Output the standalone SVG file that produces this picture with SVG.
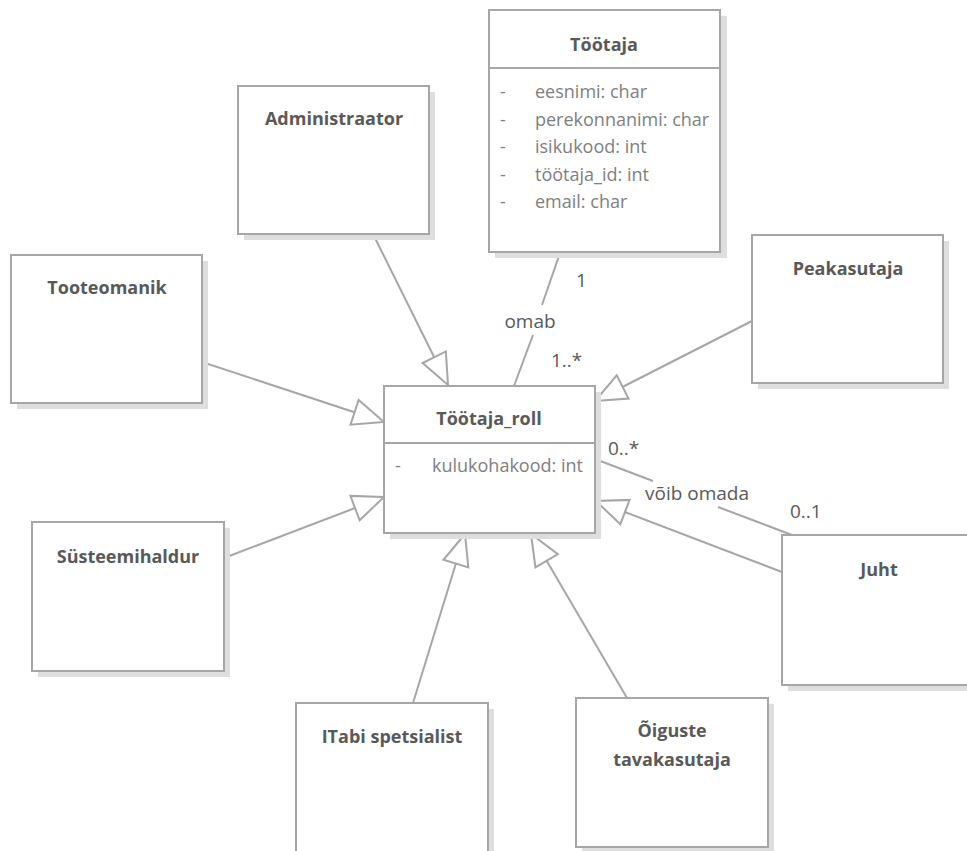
<svg xmlns="http://www.w3.org/2000/svg" width="967" height="851" viewBox="0 0 967 851">
  <style>
    .shadow { fill: #dedede; stroke: none; }
    .box { fill: #ffffff; stroke: #a6a6a6; stroke-width: 2; }
    .sep { stroke: #a6a6a6; stroke-width: 2; }
    .title { font-family: "Open Sans", "Noto Sans", sans-serif; font-weight: 700; font-size: 18px; fill: #595959; text-anchor: middle; }
    .attr { font-family: "Open Sans", "Noto Sans", sans-serif; font-size: 18px; fill: #808080; }
    .lbl { font-family: "Open Sans", "Noto Sans", sans-serif; font-size: 19px; fill: #595959; }
    .gen { stroke: #a6a6a6; stroke-width: 2; fill: none; marker-end: url(#hollow); }
    .assoc { stroke: #a6a6a6; stroke-width: 2; fill: none; }
  </style>
  <defs>
    <marker id="hollow" markerUnits="userSpaceOnUse" markerWidth="36" markerHeight="32" refX="33" refY="15" orient="auto" overflow="visible">
      <path d="M33,15 L2,2 L2,28 Z" fill="#ffffff" stroke="#a6a6a6" stroke-width="2" stroke-linejoin="miter"/>
    </marker>
  </defs>

  <rect width="967" height="851" fill="#ffffff"/>

  <!-- connectors -->
  <g id="connectors">
    <!-- generalizations towards Töötaja_roll -->
    <line class="gen" x1="373" y1="234" x2="448" y2="385"/>
    <line class="gen" x1="202" y1="362" x2="384" y2="422"/>
    <line class="gen" x1="752" y1="321" x2="595" y2="401"/>
    <line class="gen" x1="224" y1="558" x2="384" y2="497"/>
    <line class="gen" x1="413" y1="703" x2="465" y2="534"/>
    <line class="gen" x1="627" y1="698" x2="531" y2="534"/>
    <line class="gen" x1="782" y1="572" x2="596" y2="501"/>
    <!-- association Töötaja – Töötaja_roll -->
    <line class="assoc" x1="560" y1="253" x2="542" y2="305"/>
    <line class="assoc" x1="533" y1="335" x2="514" y2="386"/>
    <!-- association Töötaja_roll – Juht -->
    <line class="assoc" x1="595" y1="459" x2="653" y2="481"/>
    <line class="assoc" x1="718" y1="507" x2="792" y2="535"/>
    <text class="lbl" x="576" y="287">1</text>
    <text class="lbl" x="530" y="328" text-anchor="middle">omab</text>
    <text class="lbl" x="551" y="367">1..*</text>
    <text class="lbl" x="608" y="455">0..*</text>
    <text class="lbl" x="697" y="500" text-anchor="middle">võib omada</text>
    <text class="lbl" x="790" y="518">0..1</text>
  </g>

  <!-- Töötaja -->
  <g id="tootaja">
    <rect class="shadow" x="495" y="16" width="232" height="242"/>
    <rect class="box" x="489" y="10" width="231" height="242"/>
    <line class="sep" x1="489" y1="68" x2="720" y2="68"/>
    <text class="title" x="604" y="51">Töötaja</text>
    <text class="attr" x="500" y="98">-</text><text class="attr" x="535" y="98">eesnimi: char</text>
    <text class="attr" x="500" y="126">-</text><text class="attr" x="535" y="126">perekonnanimi: char</text>
    <text class="attr" x="500" y="153">-</text><text class="attr" x="535" y="153">isikukood: int</text>
    <text class="attr" x="500" y="181">-</text><text class="attr" x="535" y="181">töötaja_id: int</text>
    <text class="attr" x="500" y="208">-</text><text class="attr" x="535" y="208">email: char</text>
  </g>

  <!-- Administraator -->
  <g id="administraator">
    <rect class="shadow" x="244" y="92" width="191" height="148"/>
    <rect class="box" x="238" y="86" width="191" height="148"/>
    <text class="title" x="334" y="125">Administraator</text>
  </g>

  <!-- Tooteomanik -->
  <g id="tooteomanik">
    <rect class="shadow" x="17" y="261" width="191" height="148"/>
    <rect class="box" x="11" y="255" width="191" height="148"/>
    <text class="title" x="107" y="294">Tooteomanik</text>
  </g>

  <!-- Peakasutaja -->
  <g id="peakasutaja">
    <rect class="shadow" x="758" y="241" width="191" height="148"/>
    <rect class="box" x="752" y="235" width="191" height="148"/>
    <text class="title" x="848" y="275">Peakasutaja</text>
  </g>

  <!-- Töötaja_roll -->
  <g id="tootaja_roll">
    <rect class="shadow" x="390" y="392" width="211" height="147"/>
    <rect class="box" x="384" y="386" width="211" height="147"/>
    <line class="sep" x1="384" y1="443" x2="595" y2="443"/>
    <text class="title" x="489" y="425">Töötaja_roll</text>
    <text class="attr" x="395" y="472">-</text><text class="attr" x="432" y="472">kulukohakood: int</text>
  </g>

  <!-- Süsteemihaldur -->
  <g id="systeemihaldur">
    <rect class="shadow" x="38" y="528" width="192" height="149"/>
    <rect class="box" x="32" y="522" width="192" height="149"/>
    <text class="title" x="128" y="563">Süsteemihaldur</text>
  </g>

  <!-- Juht -->
  <g id="juht">
    <rect class="shadow" x="788" y="541" width="192" height="150"/>
    <rect class="box" x="782" y="535" width="192" height="150"/>
    <text class="title" x="879" y="576">Juht</text>
  </g>

  <!-- ITabi spetsialist -->
  <g id="itabi">
    <rect class="shadow" x="302" y="709" width="192" height="150"/>
    <rect class="box" x="296" y="703" width="192" height="160"/>
    <text class="title" x="392" y="743">ITabi spetsialist</text>
  </g>

  <!-- Õiguste tavakasutaja -->
  <g id="oiguste_tavakasutaja">
    <rect class="shadow" x="582" y="704" width="192" height="149"/>
    <rect class="box" x="576" y="698" width="192" height="149"/>
    <text class="title" x="672" y="737">Õiguste</text>
    <text class="title" x="672" y="766">tavakasutaja</text>
  </g>
</svg>
